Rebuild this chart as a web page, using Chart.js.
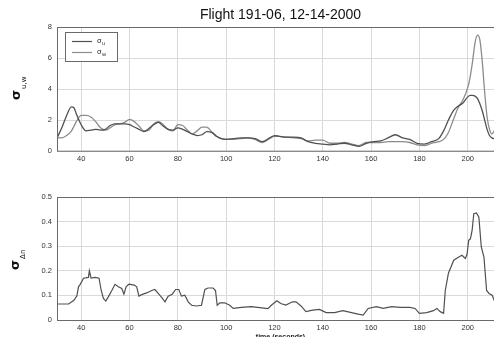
<!DOCTYPE html>
<html>
<head>
<meta charset="utf-8">
<script src="https://cdn.jsdelivr.net/npm/chart.js@4.4.0/dist/chart.umd.min.js"></script>
<style>
  html, body { margin: 0; padding: 0; background: #fff; }
  #wrap { position: relative; width: 494px; height: 337px; overflow: hidden; background: #fff; }
  .box { position: absolute; left: 0; width: 514px; }
</style>
</head>
<body>
<div id="wrap">
  <div class="box" style="top:0;height:165px"><canvas id="topChart"></canvas></div>
  <div class="box" style="top:170px;height:180px"><canvas id="bottomChart"></canvas></div>
</div>
<script>
const titleText = "Flight 191-06, 12-14-2000";
const xTicks = [40, 60, 80, 100, 120, 140, 160, 180, 200];
const yTicksTop = [0, 2, 4, 6, 8];
const yTicksBottom = [0, 0.1, 0.2, 0.3, 0.4, 0.5];

// top panel: sigma_u, sigma_w vs time (s)
const tTop = [30,32,34,36,37,38,40,42,44,46,48,50,52,54,56,58,60,62,64,66,68,70,72,74,76,78,80,82,84,86,88,90,92,94,96,98,100,103,106,109,112,115,118,120,122,125,128,131,134,137,140,143,146,149,152,155,158,161,164,167,170,173,176,179,182,185,188,190,192,194,196,198,200,201,202,203,204,205,206,207,208,209,210,211,212];
const sigmaU = [0.85,1.5,2.3,2.85,2.8,2.4,1.7,1.3,1.35,1.4,1.35,1.4,1.65,1.75,1.75,1.75,1.7,1.55,1.4,1.25,1.45,1.7,1.85,1.6,1.4,1.35,1.5,1.4,1.25,1.1,1.0,1.05,1.25,1.2,0.95,0.8,0.75,0.8,0.85,0.85,0.8,0.6,0.85,1.0,0.95,0.9,0.9,0.85,0.6,0.5,0.45,0.4,0.45,0.5,0.4,0.3,0.5,0.6,0.65,0.85,1.05,0.85,0.75,0.5,0.45,0.6,0.8,1.3,2.0,2.6,2.9,3.1,3.5,3.6,3.6,3.55,3.4,3.05,2.6,2.0,1.4,1.0,0.85,0.8,0.8];
const sigmaW = [0.85,0.85,1.0,1.3,1.6,1.9,2.3,2.3,2.2,1.9,1.5,1.35,1.5,1.7,1.75,1.85,2.05,1.9,1.6,1.3,1.35,1.75,1.9,1.7,1.4,1.3,1.7,1.65,1.35,1.1,1.3,1.55,1.55,1.25,0.95,0.8,0.75,0.75,0.8,0.85,0.75,0.55,0.8,0.95,0.95,0.9,0.85,0.8,0.65,0.7,0.7,0.5,0.5,0.55,0.45,0.35,0.55,0.55,0.55,0.6,0.6,0.6,0.55,0.4,0.35,0.5,0.6,0.75,1.2,2.0,2.8,3.3,4.1,4.8,5.8,7.0,7.5,7.2,5.8,3.8,2.2,1.4,1.1,1.3,1.5];

// bottom panel: sigma_delta_n vs time (s)
const tBottom = [30,34.8,37,38.2,38.9,39.6,41,43,43.4,44.1,45.8,47.4,48.3,49.2,50.2,51.3,52.7,54,55.4,56.8,57.7,58.6,59.8,62,63,63.9,65.3,67.1,69.2,70.5,71.9,73.3,74.7,76,77.7,79.1,80.4,81.5,82.9,84.3,85.7,87.7,89.8,91.2,92.5,94.6,95.6,96.3,97.4,99.4,101.5,102.9,106.3,110.4,113.9,117.3,118.7,120,121,122.6,124.7,127.5,128.9,131,133,135.8,138.6,141.4,144.9,148.3,151,154.6,156.7,158.8,162.2,165,168.5,172,176,178.2,180,183,185.8,187.2,188.6,190,190.7,192,194.2,196.3,197.6,199,199.7,200.4,201.1,201.8,202.5,203.6,204.6,205.6,206.7,207.8,208.8,210.1,211.8,212.5];
const sigmaDn = [0.065,0.065,0.08,0.097,0.135,0.145,0.17,0.173,0.2,0.17,0.173,0.17,0.12,0.088,0.077,0.095,0.12,0.145,0.135,0.128,0.105,0.135,0.146,0.142,0.135,0.097,0.104,0.11,0.12,0.124,0.108,0.092,0.074,0.097,0.105,0.124,0.124,0.097,0.101,0.074,0.06,0.057,0.06,0.124,0.13,0.13,0.12,0.06,0.07,0.07,0.06,0.047,0.051,0.054,0.05,0.046,0.06,0.07,0.078,0.067,0.061,0.074,0.074,0.057,0.034,0.04,0.043,0.03,0.03,0.038,0.032,0.024,0.02,0.047,0.054,0.047,0.054,0.051,0.051,0.047,0.027,0.03,0.038,0.047,0.034,0.027,0.12,0.19,0.243,0.256,0.263,0.25,0.267,0.324,0.33,0.364,0.432,0.435,0.418,0.297,0.256,0.12,0.108,0.101,0.06,0.04];

const colU = "#505050";
const colW = "#8c8c8c";
const tickFont = { family: "Liberation Sans", size: 7.5 };

function pts(xs, ys) {
  return xs.map((x, i) => ({ x: x, y: ys[i] }));
}

// sigma with subscript, rotated
function sigmaLabel(ctx, x, y, sub) {
  ctx.save();
  ctx.translate(x, y);
  ctx.rotate(-Math.PI / 2);
  ctx.fillStyle = "#111";
  ctx.textAlign = "left";
  ctx.textBaseline = "alphabetic";
  ctx.font = "bold 13px 'DejaVu Sans'";
  ctx.fillText("σ", 0, 0);
  const w = ctx.measureText("σ").width;
  ctx.font = "7px 'DejaVu Sans'";
  ctx.fillText(sub, w + 1, 6);
  ctx.restore();
}

function decor(opts) {
  return {
    id: "decor",
    afterDraw(chart) {
      const ctx = chart.ctx;
      const a = chart.chartArea;
      ctx.save();
      ctx.strokeStyle = "#6a6a6a";
      ctx.lineWidth = 1;
      ctx.strokeRect(Math.round(a.left) + 0.5, Math.round(a.top) + 0.5, a.right - a.left, a.bottom - a.top);
      ctx.restore();
      sigmaLabel(ctx, opts.lx, opts.ly, opts.sub);
      if (opts.legend) {
        ctx.save();
        ctx.fillStyle = "#fff";
        ctx.fillRect(65.5, 32.5, 52, 29);
        ctx.strokeStyle = "#6a6a6a";
        ctx.strokeRect(65.5, 32.5, 52, 29);
        const items = [["u", colU, 41.5], ["w", colW, 52.5]];
        items.forEach(([s, c, y]) => {
          ctx.strokeStyle = c;
          ctx.lineWidth = 1.2;
          ctx.beginPath();
          ctx.moveTo(72, y);
          ctx.lineTo(92, y);
          ctx.stroke();
          ctx.fillStyle = "#222";
          ctx.font = "7px 'DejaVu Sans'";
          ctx.fillText("σ", 97, y + 1);
          ctx.font = "5px 'DejaVu Sans'";
          ctx.fillText(s, 102, y + 3);
        });
        ctx.restore();
      }
      if (opts.xTitle) {
        ctx.save();
        ctx.fillStyle = "#222";
        ctx.font = "bold 7px 'Liberation Sans'";
        ctx.textAlign = "center";
        ctx.textBaseline = "middle";
        ctx.fillText(opts.xTitle, (a.left + a.right) / 2, a.bottom + 17.5);
        ctx.restore();
      }
    }
  };
}

function scales(yMin, yMax, yTicks, xHeight) {
  return {
    x: {
      type: "linear", min: 30, max: 215,
      afterBuildTicks: s => { s.ticks = xTicks.map(v => ({ value: v })); },
      afterFit: s => { s.height = xHeight; },
      ticks: { font: tickFont, color: "#333", padding: 3, maxRotation: 0 },
      grid: { color: "#dadada", drawTicks: false },
      border: { display: false }
    },
    y: {
      min: yMin, max: yMax,
      afterBuildTicks: s => { s.ticks = yTicks.map(v => ({ value: v })); },
      afterFit: s => { s.width = 57; },
      ticks: { font: tickFont, color: "#333", padding: 5 },
      grid: { color: "#dadada", drawTicks: false },
      border: { display: false }
    }
  };
}

new Chart(document.getElementById("topChart"), {
  type: "line",
  data: {
    datasets: [
      { label: "σu", data: pts(tTop, sigmaU), borderColor: colU, borderWidth: 1.3, pointRadius: 0, cubicInterpolationMode: "monotone" },
      { label: "σw", data: pts(tTop, sigmaW), borderColor: colW, borderWidth: 1.3, pointRadius: 0, cubicInterpolationMode: "monotone" }
    ]
  },
  options: {
    responsive: true, maintainAspectRatio: false, animation: false,
    layout: { padding: { left: 0, right: 10, top: 0, bottom: 0 } },
    plugins: {
      legend: { display: false }, tooltip: { enabled: false },
      title: { display: true, text: titleText, fullSize: false, color: "#111",
        font: { family: "Liberation Sans", size: 14, weight: "normal" }, padding: { top: 7, bottom: 3.5 } }
    },
    scales: scales(0, 8, yTicksTop, 14)
  },
  plugins: [decor({ lx: 20, ly: 100, sub: "u,w", legend: true })]
});

new Chart(document.getElementById("bottomChart"), {
  type: "line",
  data: {
    datasets: [
      { label: "σΔn", data: pts(tBottom, sigmaDn), borderColor: colU, borderWidth: 1.2, pointRadius: 0, tension: 0 }
    ]
  },
  options: {
    responsive: true, maintainAspectRatio: false, animation: false,
    layout: { padding: { left: 0, right: 10, top: 27, bottom: 0 } },
    plugins: { legend: { display: false }, tooltip: { enabled: false } },
    scales: scales(0, 0.5, yTicksBottom, 30)
  },
  plugins: [decor({ lx: 18.5, ly: 100, sub: "Δn", xTitle: "time (seconds)" })]
});
</script>
</body>
</html>
